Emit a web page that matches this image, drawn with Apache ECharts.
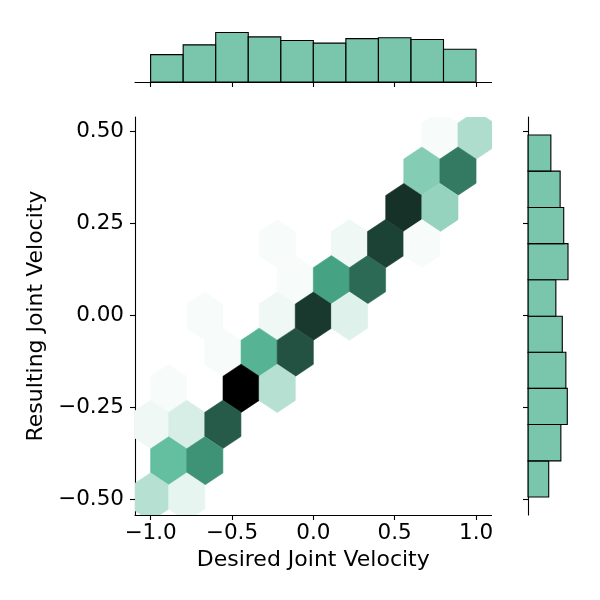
<!DOCTYPE html>
<html>
<head>
    <meta charset="utf-8">
    <title>Joint velocity hexbin</title>
    <script src="https://cdn.jsdelivr.net/npm/echarts@6/dist/echarts.min.js"></script>
    <style>
        html, body { margin: 0; padding: 0; background: #fff; }
        #chart { width: 600px; height: 600px; }
    </style>
</head>
<body>
    <div id="chart"></div>
    <script type="text/javascript">
        // ---------------- data ----------------
        // hex centres (x, y) and the count in each hex
        var hexX = [
            0.778, 1.0,
            0.667, 0.889,
            0.556, 0.778,
            -0.222, 0.222, 0.444, 0.667,
            -0.111, 0.111, 0.333,
            -0.667, -0.222, 0.0, 0.222,
            -0.556, -0.333, -0.111,
            -0.889, -0.444, -0.222,
            -1.0, -0.778, -0.556,
            -0.889, -0.667,
            -1.0, -0.778
        ];
        var hexY = [
            0.489, 0.489,
            0.391, 0.391,
            0.292, 0.292,
            0.194, 0.194, 0.194, 0.194,
            0.096, 0.096, 0.096,
            -0.003, -0.003, -0.003, -0.003,
            -0.101, -0.101, -0.101,
            -0.199, -0.199, -0.199,
            -0.297, -0.297, -0.297,
            -0.396, -0.396,
            -0.494, -0.494
        ];
        var hexCount = [
            1, 10,
            15, 29,
            38, 13,
            1, 2, 36, 1,
            1, 24, 31,
            1, 2, 37, 4,
            1, 21, 34,
            1, 44, 9,
            2, 5, 33,
            19, 26,
            9, 3
        ];

        // marginal histograms
        var xBinEdges = [-1.0, -0.8, -0.6, -0.4, -0.2, 0.0, 0.2, 0.4, 0.6, 0.8, 1.0];
        var xHistCounts = [31, 42, 56, 51, 47, 44, 49, 50, 48, 37];
        var yBinEdges = [-0.494, -0.396, -0.297, -0.199, -0.101, -0.003, 0.096, 0.194, 0.292, 0.391, 0.489];
        var yHistCounts = [29, 46, 55, 53, 48, 39, 56, 50, 45, 32];

        var xTicks = [-1.0, -0.5, 0.0, 0.5, 1.0];
        var yTicks = [-0.50, -0.25, 0.00, 0.25, 0.50];

        // ---------------- style ----------------
        var baseColor = '#4CB391';
        var histFill = 'rgba(76, 179, 145, 0.75)';
        var HEX_W = 0.2222;    // hex width in x units
        var HEX_SY = 0.1966;   // hex row lattice step in y units
        var FONT = 'DejaVu Sans';

        // colormap: same hue/saturation as the base colour, lightness 1 -> 0
        function hexToRgb(h) {
            return [parseInt(h.substr(1, 2), 16) / 255, parseInt(h.substr(3, 2), 16) / 255, parseInt(h.substr(5, 2), 16) / 255];
        }
        function rgbToHls(c) {
            var r = c[0], g = c[1], b = c[2];
            var mx = Math.max(r, g, b), mn = Math.min(r, g, b);
            var l = (mx + mn) / 2, h = 0, s = 0;
            if (mx !== mn) {
                var d = mx - mn;
                s = l <= 0.5 ? d / (mx + mn) : d / (2 - mx - mn);
                if (mx === r) h = ((g - b) / d) % 6;
                else if (mx === g) h = (b - r) / d + 2;
                else h = (r - g) / d + 4;
                h = h / 6;
                if (h < 0) h += 1;
            }
            return [h, l, s];
        }
        function hlsToRgb(h, l, s) {
            function v(m1, m2, hue) {
                hue = ((hue % 1) + 1) % 1;
                if (hue < 1 / 6) return m1 + (m2 - m1) * hue * 6;
                if (hue < 0.5) return m2;
                if (hue < 2 / 3) return m1 + (m2 - m1) * (2 / 3 - hue) * 6;
                return m1;
            }
            if (s === 0) return [l, l, l];
            var m2 = l <= 0.5 ? l * (1 + s) : l + s - l * s;
            var m1 = 2 * l - m2;
            return [v(m1, m2, h + 1 / 3), v(m1, m2, h), v(m1, m2, h - 1 / 3)];
        }
        var hls = rgbToHls(hexToRgb(baseColor));
        var cmapColors = [];
        for (var i = 0; i < 12; i++) {
            var l = 1 - i / 11;
            var rgb = hlsToRgb(hls[0], l, hls[2]);
            cmapColors.push('rgb(' + rgb.map(function (c) { return Math.round(Math.min(1, Math.max(0, c)) * 255); }).join(',') + ')');
        }

        var hexData = hexX.map(function (x, i) { return [x, hexY[i], hexCount[i]]; });
        var xHistData = xHistCounts.map(function (c, i) { return [xBinEdges[i], xBinEdges[i + 1], c]; });
        var yHistData = yHistCounts.map(function (c, i) { return [yBinEdges[i], yBinEdges[i + 1], c]; });
        var histMax = Math.max.apply(null, xHistCounts.concat(yHistCounts)) * 1.05;

        function fmt(d) {
            return function (v) {
                var s = Math.abs(v).toFixed(d);
                return (v < -1e-9 ? '\u2212' : '') + s;
            };
        }

        var XMIN = -1.096, XMAX = 1.095, YMIN = -0.543, YMAX = 0.538;
        var lineStyle = { color: '#000', width: 1.1 };
        var labelStyle = { color: '#000', fontFamily: FONT, fontSize: 21.5 };

        var chart = echarts.init(document.getElementById('chart'));
        var option = {
            backgroundColor: '#fff',
            animation: false,
            grid: [
                { left: 135, top: 117, width: 356.5, height: 398 },
                { left: 135, top: 30, width: 356.5, height: 52 },
                { left: 528, top: 117, width: 42, height: 398 }
            ],
            xAxis: [
                {
                    gridIndex: 0, type: 'value', min: XMIN, max: XMAX,
                    name: 'Desired Joint Velocity', nameLocation: 'middle', nameGap: 34,
                    nameTextStyle: { color: '#000', fontFamily: FONT, fontSize: 22 },
                    axisLine: { show: true, onZero: false, lineStyle: lineStyle },
                    axisTick: { show: true, length: 5, lineStyle: lineStyle, customValues: xTicks },
                    axisLabel: Object.assign({ margin: 7, customValues: xTicks, formatter: fmt(1) }, labelStyle),
                    splitLine: { show: false }
                },
                {
                    gridIndex: 1, type: 'value', min: XMIN, max: XMAX,
                    axisLine: { show: true, onZero: false, lineStyle: lineStyle },
                    axisTick: { show: true, length: 5, lineStyle: lineStyle, customValues: xTicks },
                    axisLabel: { show: false },
                    splitLine: { show: false }
                },
                {
                    gridIndex: 2, type: 'value', min: 0, max: histMax, show: false,
                    splitLine: { show: false }
                }
            ],
            yAxis: [
                {
                    gridIndex: 0, type: 'value', min: YMIN, max: YMAX,
                    name: 'Resulting Joint Velocity', nameLocation: 'middle', nameGap: 86, nameRotate: 90,
                    nameTextStyle: { color: '#000', fontFamily: FONT, fontSize: 22 },
                    axisLine: { show: true, onZero: false, lineStyle: lineStyle },
                    axisTick: { show: true, length: 5, lineStyle: lineStyle, customValues: yTicks },
                    axisLabel: Object.assign({ margin: 11, customValues: yTicks, formatter: fmt(2) }, labelStyle),
                    splitLine: { show: false }
                },
                {
                    gridIndex: 1, type: 'value', min: 0, max: histMax, show: false,
                    splitLine: { show: false }
                },
                {
                    gridIndex: 2, type: 'value', min: YMIN, max: YMAX,
                    axisLine: { show: true, onZero: false, lineStyle: lineStyle },
                    axisTick: { show: true, length: 5, lineStyle: lineStyle, customValues: yTicks },
                    axisLabel: { show: false },
                    splitLine: { show: false }
                }
            ],
            visualMap: [{
                type: 'continuous', show: false, seriesIndex: 0, dimension: 2,
                min: 0, max: Math.max.apply(null, hexCount),
                inRange: { color: cmapColors }
            }],
            series: [
                {
                    // hexbin cells
                    type: 'custom', xAxisIndex: 0, yAxisIndex: 0, clip: true,
                    data: hexData,
                    renderItem: function (params, api) {
                        var c = api.coord([api.value(0), api.value(1)]);
                        var s = api.size([HEX_W, HEX_SY]);
                        var w = s[0] / 2, h = s[1];
                        var pts = [
                            [c[0] + w, c[1] + h / 6], [c[0] + w, c[1] - h / 6], [c[0], c[1] - h / 3],
                            [c[0] - w, c[1] - h / 6], [c[0] - w, c[1] + h / 6], [c[0], c[1] + h / 3]
                        ];
                        var col = api.visual('color');
                        return {
                            type: 'polygon',
                            shape: { points: pts },
                            style: { fill: col, stroke: col, lineWidth: 0.6 }
                        };
                    }
                },
                {
                    // top marginal histogram
                    type: 'custom', xAxisIndex: 1, yAxisIndex: 1,
                    data: xHistData,
                    renderItem: function (params, api) {
                        var p0 = api.coord([api.value(0), 0]);
                        var p1 = api.coord([api.value(1), api.value(2)]);
                        return {
                            type: 'rect',
                            shape: { x: p0[0], y: p1[1], width: p1[0] - p0[0], height: p0[1] - p1[1] },
                            style: { fill: histFill, stroke: '#000', lineWidth: 1.1 }
                        };
                    }
                },
                {
                    // right marginal histogram
                    type: 'custom', xAxisIndex: 2, yAxisIndex: 2,
                    data: yHistData,
                    renderItem: function (params, api) {
                        var p0 = api.coord([0, api.value(0)]);
                        var p1 = api.coord([api.value(2), api.value(1)]);
                        return {
                            type: 'rect',
                            shape: { x: p0[0], y: p1[1], width: p1[0] - p0[0], height: p0[1] - p1[1] },
                            style: { fill: histFill, stroke: '#000', lineWidth: 1.1 }
                        };
                    }
                }
            ]
        };
        chart.setOption(option);
    </script>
</body>
</html>
